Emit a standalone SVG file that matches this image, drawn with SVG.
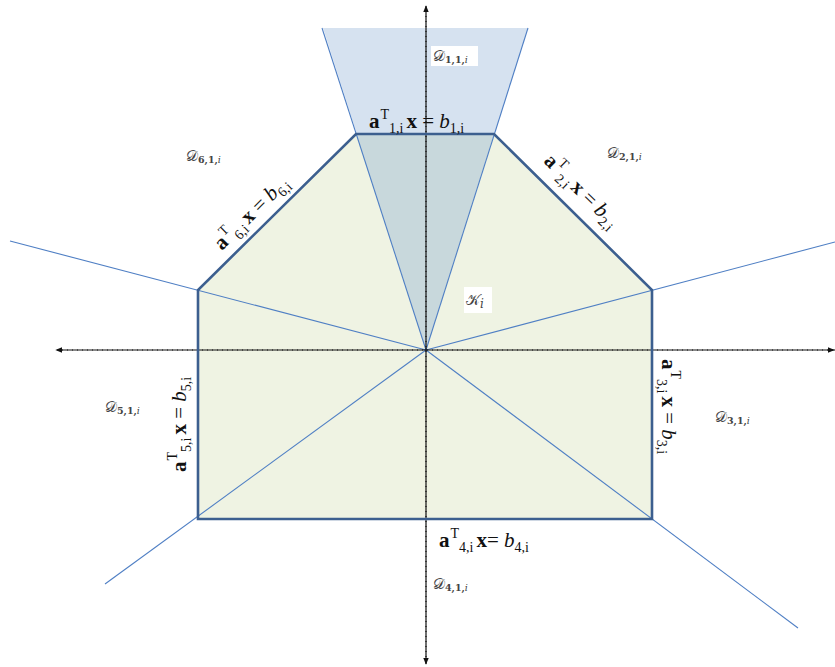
<svg xmlns="http://www.w3.org/2000/svg" width="835" height="667" viewBox="0 0 835 667">
<style>
.ray{stroke:#4f7fc4;stroke-width:1.1;fill:none}
.axis{stroke:#111;stroke-width:1.2;stroke-dasharray:3,2;fill:none}
.edge{stroke:#3c5f8f;stroke-width:2.6;fill:none}
.lbl{font-family:"Liberation Serif","Times New Roman",serif;font-size:21px;fill:#111}
.s{font-size:14px}
.dl{font-family:"DejaVu Serif","Liberation Serif",serif;font-size:15px;fill:#444}
.sub{font-size:9.5px;font-weight:bold}
</style>
<defs>
<marker id="ah" viewBox="0 0 10 10" refX="9" refY="5" markerWidth="7" markerHeight="7" orient="auto" markerUnits="userSpaceOnUse">
<path d="M0,1 L10,5 L0,9 Z" fill="#111"/>
</marker>
</defs>
<rect width="835" height="667" fill="#fff"/>
<g id="cone">
<polygon points="323,28 528,28 426,350" fill="#d6e2f0"/>
</g>
<g id="K">
<polygon points="356,134 494,134 652,290 652,519 198,519 198,290" fill="#eff3e3"/>
<polygon points="356,134 494,134 426,350" fill="#c8d8dc"/>
</g>
<g id="connectors">
<line class="ray" x1="426" y1="350" x2="322" y2="28"/>
<line class="ray" x1="426" y1="350" x2="528" y2="28"/>
<line class="ray" x1="426" y1="350" x2="10" y2="241"/>
<line class="ray" x1="426" y1="350" x2="835" y2="242"/>
<line class="ray" x1="426" y1="350" x2="105" y2="584"/>
<line class="ray" x1="426" y1="350" x2="798" y2="628"/>
<line class="axis" x1="426" y1="664" x2="426" y2="6" marker-end="url(#ah)"/>
<line class="axis" x1="426" y1="14" x2="426" y2="664" marker-end="url(#ah)"/>
<line class="axis" x1="835" y1="350" x2="56" y2="350" marker-end="url(#ah)"/>
<line class="axis" x1="60" y1="350" x2="834" y2="350" marker-end="url(#ah)"/>
</g>
<g id="edges">
<polygon class="edge" points="356,134 494,134 652,290 652,519 198,519 198,290"/>
</g>
<g id="D1">
<rect x="431" y="46" width="47" height="20" fill="#fff"/>
<text class="dl" x="433" y="61">𝒟<tspan class="sub" dy="2">1,1,</tspan><tspan font-size="9.5" font-style="italic">i</tspan></text>
</g>
<g id="D2"><text class="dl" x="607" y="158">𝒟<tspan class="sub" dy="2">2,1,</tspan><tspan font-size="9.5" font-style="italic">i</tspan></text></g>
<g id="D3"><text class="dl" x="715" y="422">𝒟<tspan class="sub" dy="2">3,1,</tspan><tspan font-size="9.5" font-style="italic">i</tspan></text></g>
<g id="D4"><text class="dl" x="433" y="589">𝒟<tspan class="sub" dy="2">4,1,</tspan><tspan font-size="9.5" font-style="italic">i</tspan></text></g>
<g id="D5"><text class="dl" x="105" y="412">𝒟<tspan class="sub" dy="2">5,1,</tspan><tspan font-size="9.5" font-style="italic">i</tspan></text></g>
<g id="D6"><text class="dl" x="186" y="161">𝒟<tspan class="sub" dy="2">6,1,</tspan><tspan font-size="9.5" font-style="italic">i</tspan></text></g>
<g id="Ki">
<rect x="464" y="287" width="28" height="26" fill="#fff"/>
<text class="dl" x="466" y="305" font-size="20">𝒦<tspan font-size="12" font-style="italic" dy="3">i</tspan></text>
</g>
<g id="L1"><text class="lbl" x="369" y="128"><tspan font-weight="bold">a</tspan><tspan class="s" dx="1" dy="-9">T</tspan><tspan class="s" dy="14">1,i</tspan><tspan font-weight="bold" dx="3" dy="-5">x</tspan> = <tspan font-style="italic">b</tspan><tspan class="s" dy="5">1,i</tspan></text></g>
<g id="L6"><text class="lbl" transform="translate(222,251) rotate(-44.6)"><tspan font-weight="bold">a</tspan><tspan class="s" dx="1" dy="-9">T</tspan><tspan class="s" dy="14">6,i</tspan><tspan font-weight="bold" dx="3" dy="-5">x</tspan> = <tspan font-style="italic">b</tspan><tspan class="s" dy="5">6,i</tspan></text></g>
<g id="L2"><text class="lbl" transform="translate(543,162) rotate(44.6)"><tspan font-weight="bold">a</tspan><tspan class="s" dx="1" dy="-9">T</tspan><tspan class="s" dy="14">2,i</tspan><tspan font-weight="bold" dx="3" dy="-5">x</tspan> = <tspan font-style="italic">b</tspan><tspan class="s" dy="5">2,i</tspan></text></g>
<g id="L5"><text class="lbl" transform="translate(186,472) rotate(-90)"><tspan font-weight="bold">a</tspan><tspan class="s" dx="1" dy="-9">T</tspan><tspan class="s" dy="14">5,i</tspan><tspan font-weight="bold" dx="3" dy="-5">x</tspan> = <tspan font-style="italic">b</tspan><tspan class="s" dy="5">5,i</tspan></text></g>
<g id="L3"><text class="lbl" transform="translate(662,359) rotate(90)"><tspan font-weight="bold">a</tspan><tspan class="s" dx="1" dy="-9">T</tspan><tspan class="s" dy="14">3,i</tspan><tspan font-weight="bold" dx="3" dy="-5">x</tspan> = <tspan font-style="italic">b</tspan><tspan class="s" dy="5">3,i</tspan></text></g>
<g id="L4"><text class="lbl" x="439" y="547"><tspan font-weight="bold">a</tspan><tspan class="s" dx="1" dy="-9">T</tspan><tspan class="s" dy="14">4,i</tspan><tspan font-weight="bold" dx="3" dy="-5">x</tspan>= <tspan font-style="italic">b</tspan><tspan class="s" dy="5">4,i</tspan></text></g>
</svg>
